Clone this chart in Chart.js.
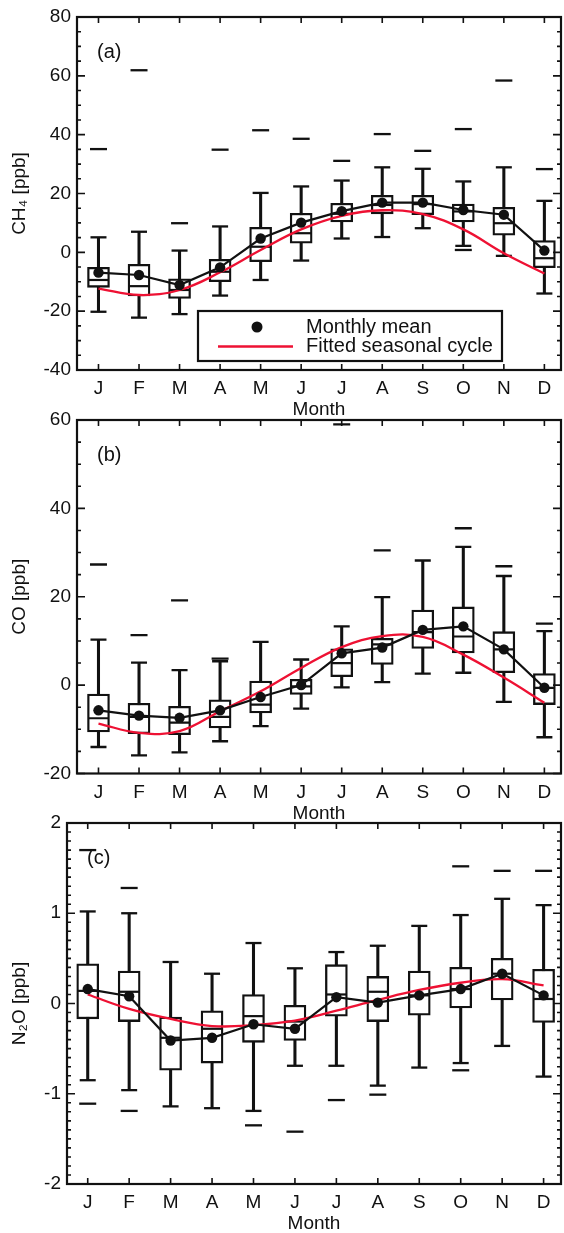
<!DOCTYPE html>
<html><head><meta charset="utf-8">
<script src="https://cdn.jsdelivr.net/npm/chart.js@4.4.1/dist/chart.umd.min.js"></script>
<style>
html,body{margin:0;padding:0;background:#fff;}
#wrap{position:relative;width:564px;height:1233px;overflow:hidden;background:#fff;}
canvas{position:absolute;left:0;}
</style></head><body>
<div id="wrap">
<canvas id="cA"></canvas><canvas id="cB"></canvas><canvas id="cC"></canvas>
</div>
<script>
// ---------- data ----------
const months = ['J','F','M','A','M','J','J','A','S','O','N','D'];

// (a) CH4 [ppb]
const ch4Ticks   = [-40,-20,0,20,40,60,80];
const ch4WhiskLo = [-20.2,-22.2,-21.0,-14.7,-9.4,-2.8,4.7,5.2,8.2,2.2,-1.2,-14.0];
const ch4Q1      = [-11.9,-14.8,-15.7,-10.0,-3.2,3.1,10.3,13.1,12.8,10.3,5.8,-5.2];
const ch4Median  = [-9.4,-11.5,-12.8,-6.6,1.9,6.5,13.1,16.1,16.4,13.9,9.9,-2.0];
const ch4Q3      = [-5.1,-4.1,-9.0,-2.4,8.5,13.3,16.7,19.4,19.4,16.4,15.3,4.0];
const ch4WhiskHi = [5.1,7.0,0.6,8.8,20.2,22.4,24.4,28.9,28.4,24.1,28.9,17.5];
const ch4Mean    = [-6.9,-7.7,-11.1,-5.1,4.7,10.1,14.0,16.9,16.9,14.4,12.8,0.6];
const ch4OutHi   = [35.1,61.9,9.9,34.9,41.5,38.6,31.1,40.2,34.5,41.9,58.4,28.3];
const ch4OutLo   = [null,null,null,null,null,null,null,null,null,0.8,null,null];
const ch4Fit     = [-12.3,-14.5,-12.8,-6.8,0.8,7.8,12.4,14.3,13.0,7.8,-0.3,-7.2];

// (b) CO [ppb]
const coTicks   = [-20,0,20,40,60];
const coWhiskLo = [-14.0,-15.9,-15.2,-12.7,-9.3,-5.3,-0.5,0.7,2.6,2.8,-3.8,-11.8];
const coQ1      = [-10.6,-11.0,-11.2,-9.7,-6.3,-2.1,1.9,4.7,8.3,7.3,2.8,-4.4];
const coMedian  = [-7.5,-7.2,-8.5,-7.2,-4.4,-0.3,5.0,9.2,12.0,11.0,8.1,-0.6];
const coQ3      = [-2.0,-4.1,-4.8,-3.3,0.9,1.3,8.2,10.6,17.0,17.7,12.1,2.6];
const coWhiskHi = [10.3,5.1,3.4,5.4,9.8,5.8,13.3,19.9,28.2,31.3,24.7,12.2];
const coMean    = [-5.7,-6.9,-7.4,-5.7,-2.7,0.0,7.2,8.5,12.5,13.3,8.1,-0.6];
const coOutHi   = [27.3,11.3,19.2,6.0,null,null,59.0,30.5,null,35.5,26.9,13.9];
const coOutLo   = [null,null,null,null,null,null,null,null,null,null,null,null];
const coFit     = [-8.7,-10.8,-10.4,-5.9,-1.4,3.9,8.6,11.1,10.9,6.9,1.7,-4.0];

// (c) N2O [ppb]
const n2oTicks   = [-2,-1,0,1,2];
const n2oWhiskLo = [-0.85,-0.96,-1.14,-1.16,-1.19,-0.69,-0.69,-0.91,-0.71,-0.66,-0.47,-0.81];
const n2oQ1      = [-0.17,-0.20,-0.74,-0.66,-0.43,-0.41,-0.14,-0.20,-0.13,-0.05,0.04,-0.21];
const n2oMedian  = [0.14,0.13,-0.38,-0.28,-0.14,-0.20,0.10,0.13,0.09,0.16,0.33,0.05];
const n2oQ3      = [0.44,0.36,-0.15,-0.08,0.10,-0.02,0.43,0.30,0.36,0.40,0.50,0.38];
const n2oWhiskHi = [1.02,1.00,0.46,0.33,0.67,0.39,0.57,0.64,0.86,0.98,1.16,1.09];
const n2oMean    = [0.16,0.08,-0.41,-0.38,-0.23,-0.28,0.07,0.01,0.09,0.16,0.33,0.09];
const n2oOutHi   = [1.70,1.28,null,null,null,null,null,null,null,1.52,1.47,1.47];
const n2oOutLo   = [-1.11,-1.19,null,null,-1.35,-1.42,-1.07,-1.01,null,-0.74,null,null];
const n2oFit     = [0.10,-0.06,-0.17,-0.25,-0.24,-0.19,-0.08,0.04,0.15,0.23,0.27,0.20];

// ---------- styling / layout ----------
const FONT = "'Liberation Sans', Arial, Helvetica, sans-serif";
const INK = '#111';
const RED = '#ee1133';
Chart.defaults.font.family = FONT;
Chart.defaults.color = INK;

const frameTicks = {
  id: 'frameTicks',
  afterDraw(chart, args, o) {
    const {ctx, chartArea: a, scales: {x, y}} = chart;
    ctx.save();
    ctx.strokeStyle = INK;
    ctx.lineWidth = 1.6;
    ctx.beginPath();
    x.ticks.forEach(t => {
      const px = x.getPixelForValue(t.value);
      ctx.moveTo(px, a.bottom); ctx.lineTo(px, a.bottom - 6);
      ctx.moveTo(px, a.top); ctx.lineTo(px, a.top + 6);
    });
    const n = Math.round((y.max - y.min) / o.minor);
    for (let i = 0; i <= n; i++) {
      const v = y.min + i * o.minor;
      const py = y.getPixelForValue(v);
      const r = v / o.major;
      const L = Math.abs(r - Math.round(r)) < 1e-6 ? 8 : 4;
      ctx.moveTo(a.left, py); ctx.lineTo(a.left + L, py);
      ctx.moveTo(a.right, py); ctx.lineTo(a.right - L, py);
    }
    ctx.stroke();
    ctx.lineWidth = 2.2;
    ctx.strokeRect(a.left, a.top, a.right - a.left, a.bottom - a.top);
    ctx.fillStyle = INK;
    ctx.font = '20px ' + FONT;
    ctx.textBaseline = 'middle';
    ctx.textAlign = 'left';
    ctx.fillText(o.label, a.left + o.labelDx, a.top + o.labelDy);
    if (o.legend) {
      const bx = a.left + 121, by = a.top + 294, bw = 304, bh = 50;
      ctx.fillStyle = '#fff';
      ctx.fillRect(bx, by, bw, bh);
      ctx.lineWidth = 2.2;
      ctx.strokeStyle = INK;
      ctx.strokeRect(bx, by, bw, bh);
      const items = chart.data.datasets.filter(d => d.legendRank).sort((p, q) => p.legendRank - q.legendRank);
      items.forEach((d, k) => {
        const cy = by + 16 + k * 19.5;
        if (d.pointRadius > 0) {
          ctx.fillStyle = d.pointBackgroundColor;
          ctx.beginPath(); ctx.arc(bx + 59, cy, 5.5, 0, Math.PI * 2); ctx.fill();
        } else {
          ctx.strokeStyle = d.borderColor; ctx.lineWidth = d.borderWidth;
          ctx.beginPath(); ctx.moveTo(bx + 20, cy); ctx.lineTo(bx + 95, cy); ctx.stroke();
        }
        ctx.fillStyle = INK;
        ctx.font = '20px ' + FONT;
        ctx.fillText(d.label, bx + 108, cy);
      });
    }
    ctx.restore();
  }
};

function pts(arr) {
  return arr.map((v, i) => v == null ? null : {x: i + 1, y: v}).filter(p => p);
}
function ranges(lo, hi) {
  return lo.map((v, i) => ({x: i + 1, y: [v, hi[i]]}));
}

function buildPanel(id, L, d) {
  const el = document.getElementById(id);
  el.width = 564; el.height = L.height;
  el.style.top = L.canvasTop + 'px';
  el.style.width = '564px'; el.style.height = L.height + 'px';
  const bottomRel = L.bottom - L.canvasTop;
  const lh = 19 * 1.2;
  const xAxisH = L.height - bottomRel;
  const titlePadBottom = (L.canvasTop + L.height) - (L.bottom + 40) - lh / 2;

  const datasets = [
    {type: 'bar', label: 'whisker', data: ranges(d.wLo, d.wHi), backgroundColor: INK,
     borderWidth: 0, barThickness: 2.4, grouped: false, order: 6},
    {type: 'bar', label: 'box', data: ranges(d.q1, d.q3), backgroundColor: '#fff',
     borderColor: INK, borderWidth: 2.3, borderSkipped: false, barThickness: 22, grouped: false, order: 5},
    {type: 'line', label: 'median', data: pts(d.med), showLine: false, pointStyle: 'line',
     pointRadius: 10, pointBorderWidth: 2.2, pointBorderColor: INK, order: 4},
    {type: 'line', label: 'caps', data: pts(d.wLo).concat(pts(d.wHi)), showLine: false, pointStyle: 'line',
     pointRadius: 8, pointBorderWidth: 2.3, pointBorderColor: INK, order: 4},
    {type: 'line', label: 'outliers', data: pts(d.oLo).concat(pts(d.oHi)), showLine: false, pointStyle: 'line',
     pointRadius: 8.5, pointBorderWidth: 2.3, pointBorderColor: INK, order: 4},
    {type: 'line', label: 'Fitted seasonal cycle', data: pts(d.fit), borderColor: RED, borderWidth: 2.3,
     pointRadius: 0, tension: 0.4, order: 2, legendRank: 2},
    {type: 'line', label: 'Monthly mean', data: pts(d.mean), borderColor: INK, borderWidth: 2.2,
     pointRadius: 5.2, pointBackgroundColor: INK, pointBorderColor: INK, pointBorderWidth: 0,
     tension: 0, order: 1, legendRank: 1}
  ];

  return new Chart(el, {
    type: 'bar',
    data: {datasets},
    plugins: [frameTicks],
    options: {
      responsive: false, animation: false, events: [],
      layout: {autoPadding: false, padding: {top: L.top - L.canvasTop, left: 0, right: 564 - L.right, bottom: 0}},
      plugins: {
        legend: {display: false}, tooltip: {enabled: false},
        frameTicks: {major: d.major, minor: d.minor, label: d.label, labelDx: 20, labelDy: 35, legend: d.legend}
      },
      scales: {
        x: {
          type: 'linear', min: L.xMin, max: L.xMax, offset: false,
          afterBuildTicks: s => { s.ticks = months.map((m, i) => ({value: i + 1})); },
          afterFit: s => { s.height = xAxisH; s.paddingLeft = 0; s.paddingRight = 0; },
          grid: {display: false, drawTicks: false}, border: {display: false},
          ticks: {callback: v => months[Math.round(v) - 1] ?? '', autoSkip: false, maxRotation: 0, minRotation: 0,
                  padding: 19 - lh / 2, font: {size: 19}, color: INK},
          title: {display: true, text: 'Month', font: {size: 19}, color: INK,
                  padding: {top: 0, bottom: titlePadBottom}}
        },
        y: {
          type: 'linear', min: d.ticks[0], max: d.ticks[d.ticks.length - 1],
          afterBuildTicks: s => { s.ticks = d.ticks.map(v => ({value: v})); },
          afterFit: s => { s.width = L.left; s.paddingTop = 0; s.paddingBottom = 0; },
          grid: {display: false, drawTicks: false}, border: {display: false},
          ticks: {padding: 6, font: {size: 19}, color: INK},
          title: {display: true, text: d.yTitle, font: {size: 19}, color: INK,
                  padding: {top: 20 - lh / 2, bottom: 0}}
        }
      }
    }
  });
}

buildPanel('cA', {canvasTop: 0, height: 425, top: 17, bottom: 370, left: 77, right: 561, xMin: 0.47, xMax: 12.41},
  {wLo: ch4WhiskLo, q1: ch4Q1, med: ch4Median, q3: ch4Q3, wHi: ch4WhiskHi, mean: ch4Mean,
   oHi: ch4OutHi, oLo: ch4OutLo, fit: ch4Fit, ticks: ch4Ticks, major: 20, minor: 5,
   label: '(a)', yTitle: 'CH\u2084 [ppb]', legend: true});
buildPanel('cB', {canvasTop: 396, height: 430, top: 420, bottom: 773.5, left: 77, right: 561, xMin: 0.47, xMax: 12.41},
  {wLo: coWhiskLo, q1: coQ1, med: coMedian, q3: coQ3, wHi: coWhiskHi, mean: coMean,
   oHi: coOutHi, oLo: coOutLo, fit: coFit, ticks: coTicks, major: 20, minor: 5,
   label: '(b)', yTitle: 'CO [ppb]', legend: false});
buildPanel('cC', {canvasTop: 800, height: 440, top: 823, bottom: 1184, left: 67, right: 561, xMin: 0.5, xMax: 12.42},
  {wLo: n2oWhiskLo, q1: n2oQ1, med: n2oMedian, q3: n2oQ3, wHi: n2oWhiskHi, mean: n2oMean,
   oHi: n2oOutHi, oLo: n2oOutLo, fit: n2oFit, ticks: n2oTicks, major: 1, minor: 0.1,
   label: '(c)', yTitle: 'N\u2082O [ppb]', legend: false});
</script>
</body></html>
